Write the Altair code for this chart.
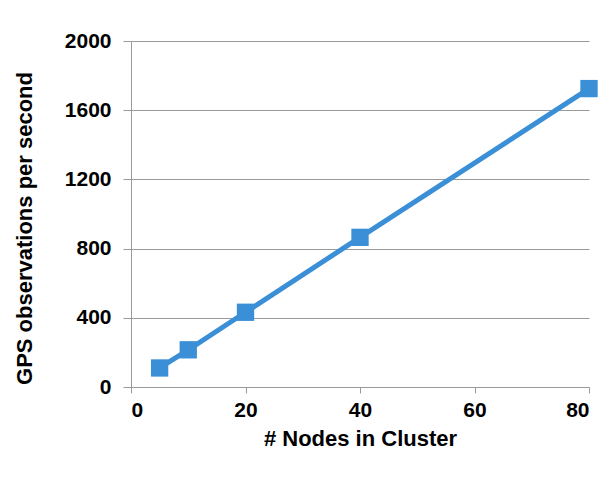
import altair as alt
import pandas as pd

nodes = [5, 10, 20, 40, 80]
obs_per_sec = [110, 215, 432, 865, 1725]

df = pd.DataFrame({"nodes": nodes, "obs": obs_per_sec})

FONT = "Liberation Sans"
BLUE = "#3b8fd6"

base = alt.Chart(df).encode(
    x=alt.X(
        "nodes:Q",
        title="# Nodes in Cluster",
        scale=alt.Scale(domain=[0, 80], nice=False),
        axis=alt.Axis(values=[0, 20, 40, 60, 80], grid=False, tickSize=6,
                      labelPadding=6, titlePadding=8, format="d"),
    ),
    y=alt.Y(
        "obs:Q",
        title="GPS observations per second",
        scale=alt.Scale(domain=[0, 2000], nice=False),
        axis=alt.Axis(values=[0, 400, 800, 1200, 1600, 2000], grid=True,
                      tickSize=8, labelPadding=12, titlePadding=28,
                      format="d", titleY=187),
    ),
)

line = base.mark_line(color=BLUE, strokeWidth=5)
pts = base.mark_point(shape="square", filled=True, color=BLUE, size=300, opacity=1)

chart = (line + pts).properties(
    width=458,
    height=346,
    autosize=alt.AutoSizeParams(type="none"),
    padding={"left": 123, "top": 33, "right": 10, "bottom": 80},
).configure_view(stroke=None).configure_axis(
    labelFont=FONT,
    titleFont=FONT,
    labelFontSize=21,
    titleFontSize=22,
    labelFontWeight="bold",
    titleFontWeight="bold",
    labelColor="#000000",
    titleColor="#000000",
    domainColor="#9a9a9a",
    tickColor="#9a9a9a",
    gridColor="#9a9a9a",
    gridWidth=1,
    domainWidth=1,
    tickWidth=1,
)

chart.save("out.html", embed_options={"renderer": "svg", "actions": False})
